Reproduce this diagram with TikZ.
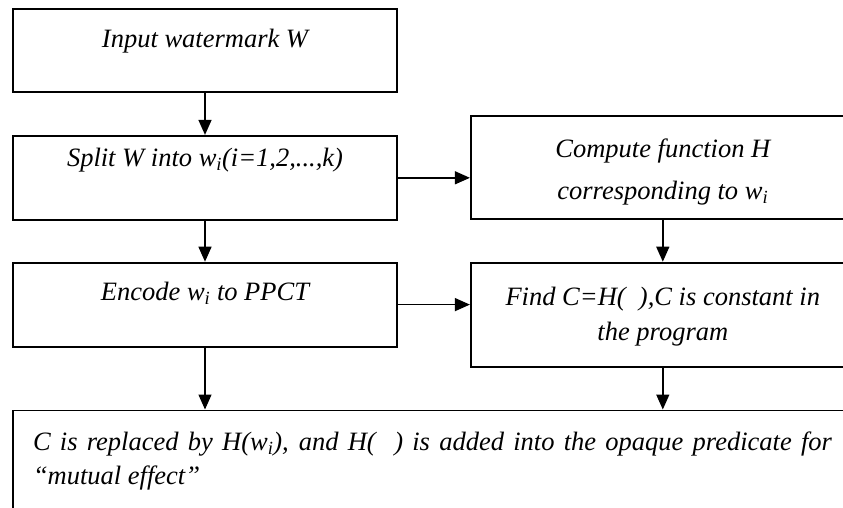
\documentclass[tikz,border=0pt]{standalone}
\usepackage{fontspec}
\setmainfont{Liberation Serif}
\usetikzlibrary{positioning,arrows.meta}

\tikzset{
  stepbox/.style={draw, line width=1.8pt, minimum width=384pt, inner sep=4pt,
    align=center, text height=20pt, font=\fontsize{26.5}{#1}\selectfont\itshape},
  stepbox/.default=37,
  link/.style={-{Triangle[length=15pt,width=13pt]}, line width=1.4pt},
}

\begin{document}
\begin{tikzpicture}[x=1pt, y=-1pt, node distance=42pt]
  \useasboundingbox (0,0) rectangle (843,507);
  \clip (0,0) rectangle (843,507);
  % left column
  \node[stepbox, minimum height=83pt, text depth=27pt] (input) at (205,50.5) {Input watermark W};
  \node[stepbox, minimum height=84pt, text depth=42pt, below=42pt of input] (split) {Split W into w\textsubscript{i}(i=1,2,...,k)};
  \node[stepbox, minimum height=84pt, text depth=28pt, below=41pt of split] (encode) {Encode w\textsubscript{i} to PPCT};
  % right column
  \node[stepbox=42, minimum height=103pt, text height=71pt, text depth=6pt, right=72pt of split, yshift=10.5pt] (compute) {Compute function H\\corresponding to w\textsubscript{i}};
  \node[stepbox=35, minimum height=104pt, text height=58pt, text depth=6pt, below=42pt of compute] (find) {Find C=H(~~),C is constant in\\the program};
  % bottom
  \node[stepbox=34, minimum height=140pt, text width=799pt, inner xsep=20pt, text depth=80pt, align=justify,
    below=62pt of encode.south west, anchor=north west] (result) {C is replaced by H(w\textsubscript{i}), and H(~~) is added into the opaque predicate for\linebreak “mutual effect”};
  % arrows
  \draw[link] (input) -- (split);
  \draw[link] (split) -- (encode);
  \draw[link] (split.east) -- (split.east -| compute.west);
  \draw[link] (encode.east) -- (encode.east -| find.west);
  \draw[link] (compute) -- (find);
  \draw[link] (encode) -- (encode |- result.north);
  \draw[link] (find) -- (find |- result.north);
\end{tikzpicture}
\end{document}
